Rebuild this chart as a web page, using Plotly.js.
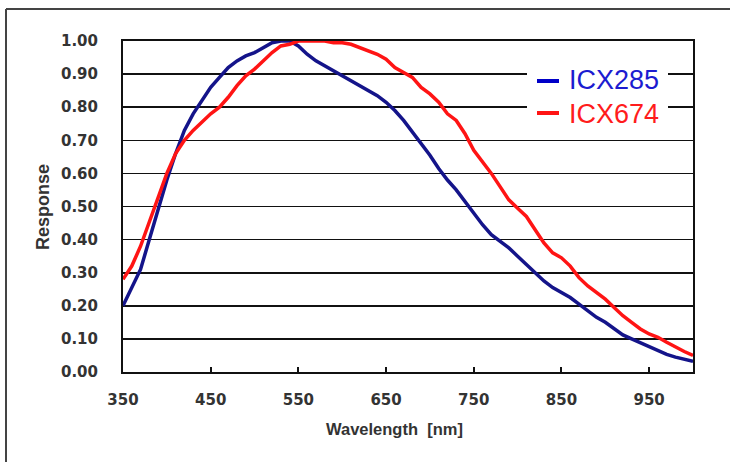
<!DOCTYPE html>
<html>
<head>
<meta charset="utf-8">
<script src="https://cdn.plot.ly/plotly-3.0.1.min.js"></script>
<style>
  html, body { margin: 0; padding: 0; background: #fff; }
  #chart { width: 730px; height: 462px; }
</style>
</head>
<body>
<div id="chart"></div>
<script>
// Wavelength (nm)
const wavelength = [350,360,370,380,390,400,410,420,430,440,450,460,470,480,490,500,510,520,530,540,550,560,570,580,590,600,610,620,630,640,650,660,670,680,690,700,710,720,730,740,750,760,770,780,790,800,810,820,830,840,850,860,870,880,890,900,910,920,930,940,950,960,970,980,990,1000];

// Relative response, ICX285
const icx285 = [0.20,0.255,0.31,0.40,0.49,0.58,0.66,0.73,0.78,0.82,0.86,0.89,0.92,0.94,0.955,0.965,0.98,0.995,1.00,1.00,0.985,0.96,0.94,0.925,0.91,0.895,0.88,0.865,0.85,0.835,0.815,0.79,0.76,0.725,0.69,0.655,0.615,0.58,0.55,0.515,0.48,0.445,0.415,0.395,0.375,0.35,0.325,0.30,0.275,0.255,0.24,0.225,0.205,0.185,0.165,0.15,0.13,0.112,0.10,0.088,0.075,0.063,0.053,0.045,0.038,0.032];

// Relative response, ICX674
const icx674 = [0.28,0.32,0.38,0.455,0.53,0.60,0.66,0.70,0.73,0.755,0.78,0.80,0.83,0.865,0.895,0.915,0.94,0.965,0.985,0.99,1.00,1.00,1.00,1.00,0.995,0.995,0.99,0.98,0.97,0.96,0.945,0.92,0.905,0.89,0.86,0.84,0.815,0.78,0.76,0.72,0.67,0.635,0.60,0.56,0.52,0.495,0.47,0.43,0.39,0.36,0.345,0.32,0.285,0.26,0.24,0.22,0.195,0.17,0.15,0.13,0.115,0.105,0.09,0.075,0.062,0.05];

const seriesNames = ['ICX285', 'ICX674'];
const xTickVals = [350,450,550,650,750,850,950];
const yTickVals = [0,0.1,0.2,0.3,0.4,0.5,0.6,0.7,0.8,0.9,1.0];

const lineColors = ['#14148a', '#ff1414'];
const textColors = ['#1c1cd0', '#ff1c1c'];

const traces = [
  { x: wavelength, y: icx285, name: seriesNames[0], type: 'scatter', mode: 'lines',
    line: { color: lineColors[0], width: 3.5 }, showlegend: false },
  { x: wavelength, y: icx674, name: seriesNames[1], type: 'scatter', mode: 'lines',
    line: { color: lineColors[1], width: 3.5 }, showlegend: false }
];

const tickFont = { family: 'DejaVu Sans, Liberation Sans, Arial, sans-serif', size: 15, color: '#333', weight: 'bold' };

// plot area: x 123..693 px, y 41..372 px
const L = 123, R = 693, T = 41, B = 372;
const px = v => (v - L) / (R - L);
const py = v => (B - v) / (B - T);

const layout = {
  width: 730, height: 462,
  margin: { l: L, r: 730 - R, t: T, b: 462 - B },
  paper_bgcolor: '#fff', plot_bgcolor: '#fff',
  showlegend: false,
  xaxis: {
    range: [350, 1000], tickvals: xTickVals, ticktext: xTickVals.map(String),
    showgrid: false, zeroline: false,
    showline: true, mirror: true, linecolor: '#111', linewidth: 2,
    ticks: 'inside', ticklen: 5, tickwidth: 2, tickcolor: '#111',
    tickfont: tickFont, ticklabelstandoff: 13
  },
  yaxis: {
    range: [0, 1], tickvals: yTickVals, tickformat: '.2f',
    showgrid: true, gridcolor: '#111', gridwidth: 1.6, zeroline: false,
    showline: true, mirror: true, linecolor: '#111', linewidth: 2,
    ticks: '', tickfont: tickFont, ticklabelstandoff: 20
  },
  shapes: [
    // outer frame (top and left)
    { type: 'line', xref: 'paper', yref: 'paper', x0: px(6), x1: px(740), y0: py(9), y1: py(9), line: { color: '#444', width: 2 } },
    { type: 'line', xref: 'paper', yref: 'paper', x0: px(6), x1: px(6), y0: py(9), y1: py(470), line: { color: '#444', width: 2 } },
    // legend box
    { type: 'rect', xref: 'paper', yref: 'paper', x0: px(527), x1: px(668), y0: py(128), y1: py(60), fillcolor: '#fff', line: { width: 0 }, layer: 'above' },
    { type: 'line', xref: 'paper', yref: 'paper', x0: px(537), x1: px(559), y0: py(81), y1: py(81), line: { color: '#0000c8', width: 4 }, layer: 'above' },
    { type: 'line', xref: 'paper', yref: 'paper', x0: px(537), x1: px(559), y0: py(113), y1: py(113), line: { color: '#ff1414', width: 4 }, layer: 'above' }
  ],
  annotations: [
    { xref: 'paper', yref: 'paper', x: px(567), y: py(80), xanchor: 'left', yanchor: 'middle', showarrow: false,
      text: seriesNames[0], font: { family: 'Liberation Sans, Arial, sans-serif', size: 27, color: textColors[0] } },
    { xref: 'paper', yref: 'paper', x: px(567), y: py(114), xanchor: 'left', yanchor: 'middle', showarrow: false,
      text: seriesNames[1], font: { family: 'Liberation Sans, Arial, sans-serif', size: 27, color: textColors[1] } },
    { xref: 'paper', yref: 'paper', x: px(394), y: py(429), xanchor: 'center', yanchor: 'middle', showarrow: false,
      text: 'Wavelength  [nm]', font: { family: 'Liberation Sans, Arial, sans-serif', size: 16.5, color: '#333', weight: 'bold' } },
    { xref: 'paper', yref: 'paper', x: px(43), y: py(207), xanchor: 'center', yanchor: 'middle', showarrow: false, textangle: -90,
      text: 'Response', font: { family: 'Liberation Sans, Arial, sans-serif', size: 18, color: '#333', weight: 'bold' } }
  ]
};

Plotly.newPlot('chart', traces, layout, { displayModeBar: false, staticPlot: true });
</script>
</body>
</html>
